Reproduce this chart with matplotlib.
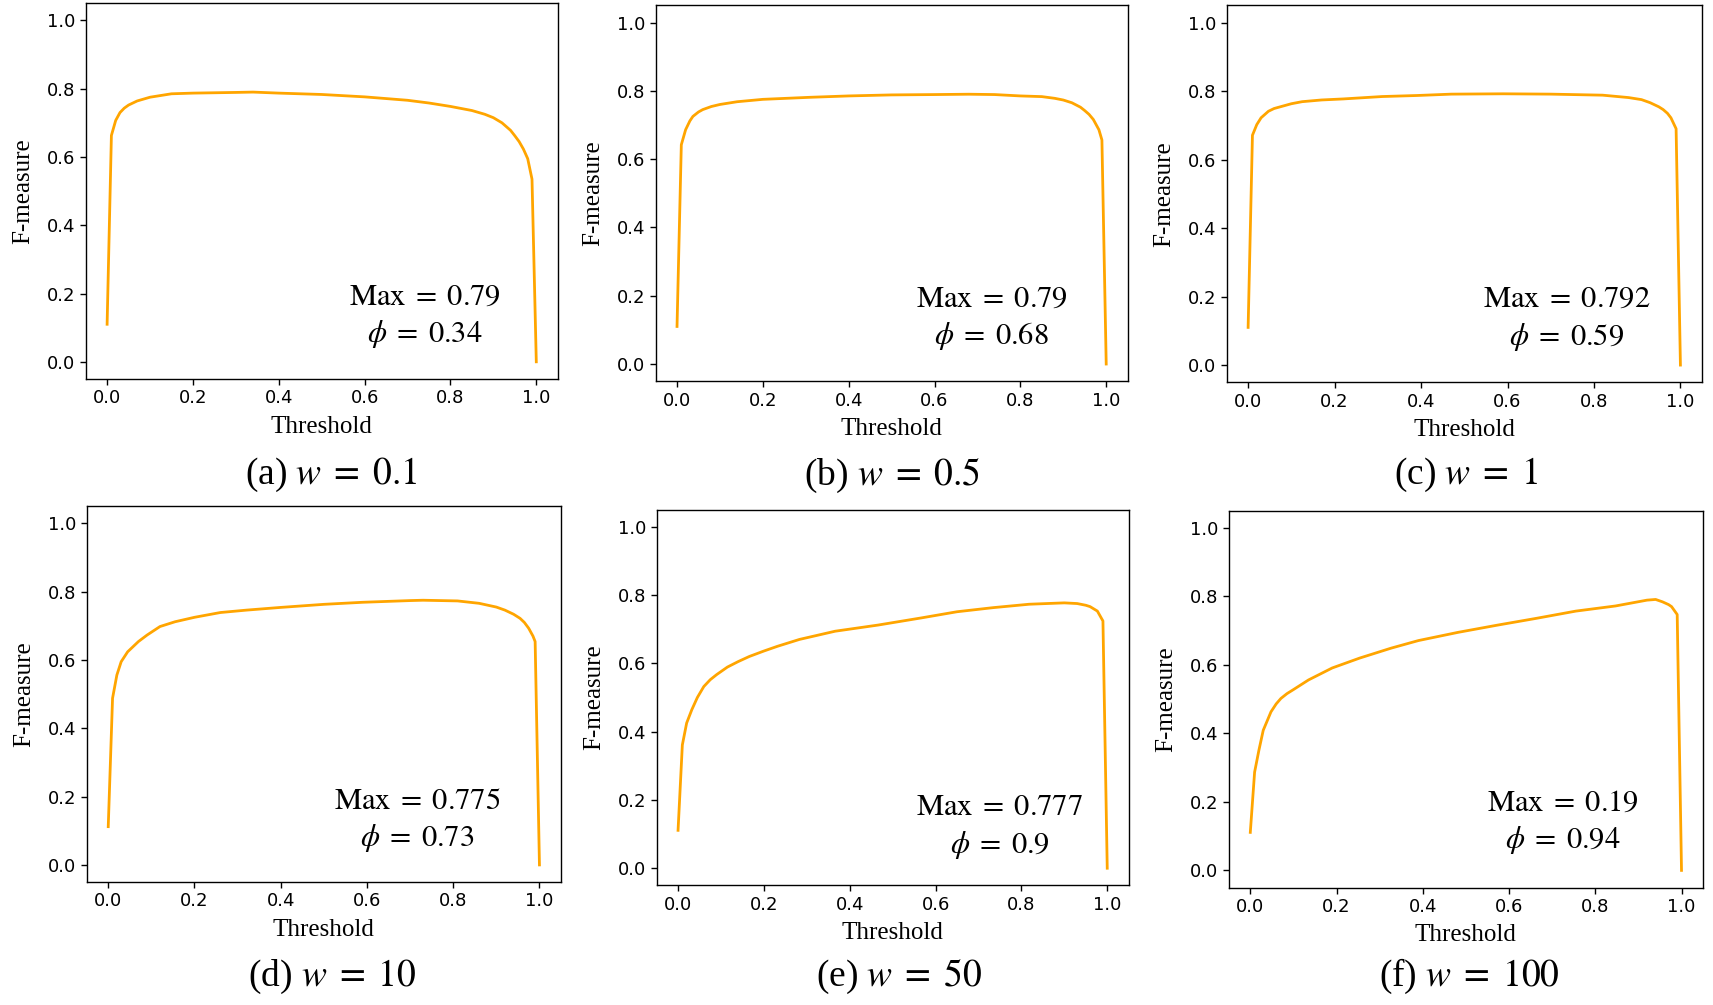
import matplotlib
matplotlib.use("Agg")
import matplotlib.pyplot as plt

plt.rcParams['mathtext.fontset'] = 'stix'

# ---------------- data ----------------
thr_a = [0.0, 0.01, 0.02, 0.03, 0.04, 0.05, 0.07, 0.10, 0.15, 0.20, 0.30, 0.34, 0.40, 0.50, 0.60,
         0.70, 0.75, 0.80, 0.85, 0.88, 0.90, 0.92, 0.94, 0.95, 0.96, 0.97, 0.98, 0.99, 1.0]
f_a = [0.11, 0.663, 0.707, 0.730, 0.743, 0.752, 0.764, 0.775, 0.785, 0.787, 0.789, 0.790, 0.787,
       0.783, 0.776, 0.766, 0.758, 0.748, 0.736, 0.725, 0.715, 0.700, 0.678, 0.662, 0.645, 0.623,
       0.595, 0.535, 0.0]

thr_b = [0.0, 0.01, 0.02, 0.03, 0.037, 0.05, 0.06, 0.08, 0.10, 0.14, 0.20, 0.31, 0.40, 0.50,
         0.60, 0.68, 0.74, 0.80, 0.85, 0.88, 0.90, 0.92, 0.94, 0.95, 0.96, 0.97, 0.983, 0.99, 1.0]
f_b = [0.11, 0.642, 0.686, 0.712, 0.725, 0.738, 0.745, 0.754, 0.760, 0.768, 0.775, 0.781, 0.785,
       0.788, 0.789, 0.790, 0.789, 0.785, 0.783, 0.778, 0.773, 0.765, 0.752, 0.742, 0.731, 0.716,
       0.686, 0.656, 0.0]

thr_c = [0.0, 0.01, 0.02, 0.03, 0.047, 0.06, 0.08, 0.10, 0.125, 0.17, 0.22, 0.31, 0.39, 0.47,
         0.59, 0.70, 0.82, 0.88, 0.91, 0.93, 0.95, 0.96, 0.97, 0.978, 0.99, 1.0]
f_c = [0.11, 0.671, 0.702, 0.722, 0.741, 0.749, 0.756, 0.763, 0.769, 0.774, 0.777, 0.784, 0.787,
       0.791, 0.792, 0.791, 0.788, 0.781, 0.775, 0.766, 0.754, 0.746, 0.735, 0.722, 0.690, 0.0]

thr_d = [0.0, 0.01, 0.02, 0.03, 0.045, 0.06, 0.07, 0.09, 0.12, 0.155, 0.20, 0.26, 0.32, 0.40,
         0.50, 0.59, 0.70, 0.73, 0.81, 0.86, 0.90, 0.92, 0.94, 0.955, 0.965, 0.975, 0.985, 0.99, 1.0]
f_d = [0.112, 0.488, 0.556, 0.595, 0.624, 0.642, 0.654, 0.673, 0.698, 0.712, 0.725, 0.739, 0.746,
       0.754, 0.763, 0.769, 0.774, 0.775, 0.773, 0.766, 0.755, 0.746, 0.734, 0.722, 0.710, 0.693,
       0.670, 0.654, 0.0]

thr_e = [0.0, 0.01, 0.02, 0.032, 0.045, 0.06, 0.075, 0.09, 0.115, 0.14, 0.166, 0.20, 0.232,
         0.283, 0.366, 0.466, 0.567, 0.65, 0.734, 0.818, 0.90, 0.93, 0.95, 0.96, 0.977, 0.99, 1.0]
f_e = [0.111, 0.361, 0.425, 0.464, 0.500, 0.532, 0.552, 0.567, 0.589, 0.605, 0.620, 0.636, 0.650,
       0.670, 0.694, 0.712, 0.733, 0.751, 0.763, 0.773, 0.777, 0.775, 0.770, 0.766, 0.753, 0.724,
       0.0]

thr_f = [0.0, 0.01, 0.02, 0.03, 0.048, 0.06, 0.071, 0.085, 0.099, 0.135, 0.19, 0.254, 0.327,
         0.39, 0.482, 0.573, 0.664, 0.755, 0.847, 0.92, 0.94, 0.956, 0.97, 0.977, 0.99, 1.0]
f_f = [0.111, 0.287, 0.351, 0.409, 0.463, 0.486, 0.502, 0.516, 0.527, 0.556, 0.591, 0.620, 0.649,
       0.671, 0.695, 0.716, 0.736, 0.757, 0.772, 0.789, 0.791, 0.784, 0.776, 0.770, 0.747, 0.0]

max_labels = ["0.79", "0.79", "0.792", "0.775", "0.777", "0.19"]
phi_labels = ["0.34", "0.68", "0.59", "0.73", "0.9", "0.94"]
captions = ["(a)", "(b)", "(c)", "(d)", "(e)", "(f)"]
w_values = ["0.1", "0.5", "1", "10", "50", "100"]
xticks = [0.0, 0.2, 0.4, 0.6, 0.8, 1.0]
yticks = [0.0, 0.2, 0.4, 0.6, 0.8, 1.0]

series = [(thr_a, f_a), (thr_b, f_b), (thr_c, f_c), (thr_d, f_d), (thr_e, f_e), (thr_f, f_f)]

# ---------------- layout ----------------
axes_rects = [
    [0.0500, 0.6230, 0.2756, 0.3737],
    [0.3827, 0.6208, 0.2756, 0.3738],
    [0.7160, 0.6197, 0.2776, 0.3749],
    [0.0506, 0.1224, 0.2769, 0.3738],
    [0.3833, 0.1191, 0.2756, 0.3738],
    [0.7173, 0.1169, 0.2769, 0.3749],
]
text_x = [0.74, 0.733, 0.737, 0.717, 0.749, 0.724]
text_y1 = [0.193, 0.193, 0.195, 0.19, 0.18, 0.20]
caption_pos = [(0.1936, 0.527), (0.521, 0.527), (0.856, 0.527),
               (0.194, 0.0284), (0.525, 0.0284), (0.858, 0.0284)]

fig = plt.figure(figsize=(17.13, 10.05), dpi=100)
serif = 'Liberation Serif'

for i, (xs, ys) in enumerate(series):
    ax = fig.add_axes(axes_rects[i])
    ax.plot(xs, ys, color='orange', lw=2.0)
    ax.set_xlim(-0.05, 1.05)
    ax.set_ylim(-0.05, 1.05)
    ax.set_xticks(xticks)
    ax.set_yticks(yticks)
    ax.tick_params(labelsize=13, width=1.0, length=4)
    for s in ax.spines.values():
        s.set_linewidth(1.0)
    ax.set_xlabel("Threshold", fontfamily=serif, fontsize=18, labelpad=6)
    ax.set_ylabel("F-measure", fontfamily=serif, fontsize=18, labelpad=9)
    ax.text(text_x[i], text_y1[i], r"$\mathrm{Max}\;=\;" + max_labels[i] + "$",
            ha='center', va='center', fontsize=22)
    ax.text(text_x[i], text_y1[i] - 0.112, r"$\phi\;=\;" + phi_labels[i] + "$",
            ha='center', va='center', fontsize=22)
    cx, cy = caption_pos[i]
    fig.text(cx, cy, captions[i] + r" $w\;=\;" + w_values[i] + "$",
             ha='center', va='center', fontsize=27, fontfamily=serif)

fig.savefig("out.png", dpi=100)
